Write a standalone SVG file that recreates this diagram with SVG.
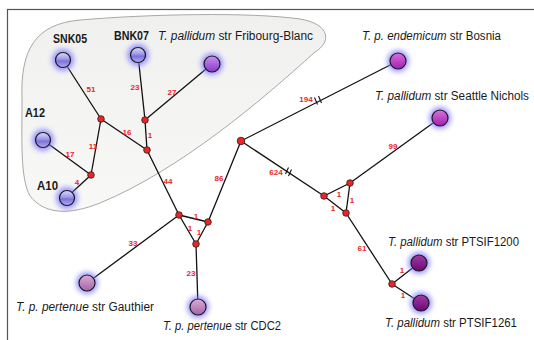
<svg xmlns="http://www.w3.org/2000/svg" width="534" height="340" viewBox="0 0 534 340">
<defs>
<style>
.edge{stroke:#111;stroke-width:1.3;fill:none}
.brk{stroke:#111;stroke-width:1.1;fill:none}
.el{font-family:"Liberation Sans",Arial,sans-serif;font-size:8px;font-weight:bold;fill:#e8262a;text-anchor:middle}
.lab{font-family:"Liberation Sans",Arial,sans-serif;font-size:12px;fill:#1a1a1a}
.bl{font-family:"Liberation Sans",Arial,sans-serif;font-size:12.5px;font-weight:bold;fill:#1a1a1a}
.glow{fill:#7f78ff;opacity:0.75;filter:url(#blur)}
.leaf{stroke:#1a1a1a;stroke-width:1.2}
.inner{fill:#ee2424;stroke:#222;stroke-width:0.8}
</style>
<filter id="blur" x="-50%" y="-50%" width="200%" height="200%"><feGaussianBlur stdDeviation="2.4"/></filter>
<linearGradient id="hull" x1="0" y1="0" x2="0" y2="1"><stop offset="0" stop-color="#f0f0ee"/><stop offset="1" stop-color="#f8f8f6"/></linearGradient>
<linearGradient id="lav" x1="0" y1="0" x2="0" y2="1"><stop offset="0" stop-color="#dcd8fa"/><stop offset="0.42" stop-color="#a49cec"/><stop offset="0.58" stop-color="#7c72dc"/><stop offset="1" stop-color="#b6aef2"/></linearGradient>
<linearGradient id="vio" x1="0" y1="0" x2="0" y2="1"><stop offset="0" stop-color="#c890f2"/><stop offset="1" stop-color="#8838c8"/></linearGradient>
<linearGradient id="mag" x1="0" y1="0" x2="0" y2="1"><stop offset="0" stop-color="#d870dc"/><stop offset="1" stop-color="#a020b0"/></linearGradient>
<linearGradient id="mauve" x1="0" y1="0" x2="0" y2="1"><stop offset="0" stop-color="#dcaad8"/><stop offset="1" stop-color="#a464a8"/></linearGradient>
<linearGradient id="dark" x1="0" y1="0" x2="0" y2="1"><stop offset="0" stop-color="#a23aa6"/><stop offset="1" stop-color="#6a0a72"/></linearGradient>
</defs>
<rect x="0" y="0" width="534" height="340" fill="#ffffff"/>
<rect x="7.5" y="9.5" width="540" height="345" fill="none" stroke="#555" stroke-width="1.2"/>
<path id="cluster" d="M22,100 C20,50 35,24 80,20 C150,14 250,12 300,19 C330,24 332,42 315,52 C262,100 180,170 100,203 C70,215 45,215 30,196 C20,178 22,140 22,100 Z" fill="url(#hull)" stroke="#a8a8a8" stroke-width="1"/>
<g id="connectors">
<line class="edge" x1="63" y1="60" x2="101" y2="119"/>
<line class="edge" x1="101" y1="119" x2="91" y2="175"/>
<line class="edge" x1="43" y1="140" x2="91" y2="175"/>
<line class="edge" x1="91" y1="175" x2="67" y2="197"/>
<line class="edge" x1="101" y1="119" x2="147" y2="150"/>
<line class="edge" x1="138" y1="55" x2="145" y2="120"/>
<line class="edge" x1="212" y1="64" x2="145" y2="120"/>
<line class="edge" x1="145" y1="120" x2="147" y2="150"/>
<line class="edge" x1="147" y1="150" x2="179" y2="215"/>
<line class="edge" x1="241" y1="141" x2="208" y2="222"/>
<line class="edge" x1="179" y1="215" x2="208" y2="222"/>
<line class="edge" x1="179" y1="215" x2="196" y2="244"/>
<line class="edge" x1="208" y1="222" x2="196" y2="244"/>
<line class="edge" x1="179" y1="215" x2="87" y2="283"/>
<line class="edge" x1="196" y1="244" x2="198" y2="307"/>
<line class="edge" x1="241" y1="141" x2="398" y2="61"/>
<line class="edge" x1="241" y1="141" x2="324" y2="196"/>
<line class="edge" x1="324" y1="196" x2="350" y2="183"/>
<line class="edge" x1="324" y1="196" x2="346" y2="213"/>
<line class="edge" x1="350" y1="183" x2="346" y2="213"/>
<line class="edge" x1="350" y1="183" x2="440" y2="118"/>
<line class="edge" x1="346" y1="213" x2="392" y2="284"/>
<line class="edge" x1="392" y1="284" x2="419" y2="263"/>
<line class="edge" x1="392" y1="284" x2="421" y2="303"/>
<g id="breaks">
<path class="brk" d="M314.5,97.5 L317.5,104.5 M318.5,96 L321.5,103"/>
<path class="brk" d="M288.5,167.5 L285.5,174 M291.5,169.5 L288.5,176"/>
</g>
<g id="edge-labels">
<text class="el" x="91" y="92">51</text>
<text class="el" x="135" y="90">23</text>
<text class="el" x="172" y="95">27</text>
<text class="el" x="127" y="135">16</text>
<text class="el" x="150" y="138">1</text>
<text class="el" x="93" y="149">11</text>
<text class="el" x="70" y="157">17</text>
<text class="el" x="77" y="185">4</text>
<text class="el" x="168" y="184">44</text>
<text class="el" x="219" y="181">86</text>
<text class="el" x="196" y="219">1</text>
<text class="el" x="190" y="231">1</text>
<text class="el" x="199" y="235">1</text>
<text class="el" x="133" y="246">33</text>
<text class="el" x="191" y="276">23</text>
<text class="el" x="306" y="102">194</text>
<text class="el" x="276" y="175">624</text>
<text class="el" x="393" y="149">99</text>
<text class="el" x="339" y="197">1</text>
<text class="el" x="333" y="211">1</text>
<text class="el" x="352" y="203">1</text>
<text class="el" x="362" y="251">61</text>
<text class="el" x="402" y="273">1</text>
<text class="el" x="403" y="298">1</text>
</g>
</g>
<g id="n1"><circle class="inner" cx="101" cy="119" r="3.3"/></g>
<g id="n2"><circle class="inner" cx="91" cy="175" r="3.3"/></g>
<g id="n3"><circle class="inner" cx="145" cy="120" r="3.3"/></g>
<g id="n4"><circle class="inner" cx="147" cy="150" r="3.3"/></g>
<g id="n5"><circle class="inner" cx="241" cy="141" r="3.8"/></g>
<g id="n6"><circle class="inner" cx="179" cy="215" r="3.3"/></g>
<g id="n7"><circle class="inner" cx="208" cy="222" r="3.3"/></g>
<g id="n8"><circle class="inner" cx="196" cy="244" r="3.3"/></g>
<g id="n9"><circle class="inner" cx="324" cy="196" r="3.3"/></g>
<g id="n10"><circle class="inner" cx="350" cy="183" r="3.3"/></g>
<g id="n11"><circle class="inner" cx="346" cy="213" r="3.3"/></g>
<g id="n12"><circle class="inner" cx="392" cy="284" r="3.3"/></g>
<g id="SNK05"><circle class="glow" cx="63" cy="60" r="11"/><circle class="leaf" cx="63" cy="60" r="7.5" fill="url(#lav)"/><text class="bl" x="53" y="43" textLength="34" lengthAdjust="spacingAndGlyphs">SNK05</text></g>
<g id="BNK07"><circle class="glow" cx="138" cy="55" r="11"/><circle class="leaf" cx="138" cy="55" r="7.5" fill="url(#lav)"/><text class="bl" x="114" y="40" textLength="35" lengthAdjust="spacingAndGlyphs">BNK07</text></g>
<g id="FribourgBlanc"><circle class="glow" cx="212" cy="64" r="11"/><circle class="leaf" cx="212" cy="64" r="8" fill="url(#vio)"/><text class="lab" x="158" y="40" textLength="155" lengthAdjust="spacingAndGlyphs"><tspan font-style="italic">T. pallidum</tspan> str Fribourg-Blanc</text></g>
<g id="A12"><circle class="glow" cx="43" cy="140" r="11"/><circle class="leaf" cx="43" cy="140" r="7.5" fill="url(#lav)"/><text class="bl" x="25" y="117" textLength="20" lengthAdjust="spacingAndGlyphs">A12</text></g>
<g id="A10"><circle class="glow" cx="67" cy="198" r="11"/><circle class="leaf" cx="67" cy="198" r="7.5" fill="url(#lav)"/><text class="bl" x="37" y="190" textLength="21" lengthAdjust="spacingAndGlyphs">A10</text></g>
<g id="Bosnia"><circle class="glow" cx="398" cy="61" r="11"/><circle class="leaf" cx="398" cy="61" r="8" fill="url(#mag)"/><text class="lab" x="362" y="40" textLength="139" lengthAdjust="spacingAndGlyphs"><tspan font-style="italic">T. p. endemicum</tspan> str Bosnia</text></g>
<g id="SeattleNichols"><circle class="glow" cx="440" cy="118" r="11"/><circle class="leaf" cx="440" cy="118" r="8" fill="url(#mag)"/><text class="lab" x="375" y="100" textLength="154" lengthAdjust="spacingAndGlyphs"><tspan font-style="italic">T. pallidum</tspan> str Seattle Nichols</text></g>
<g id="Gauthier"><circle class="glow" cx="87" cy="283" r="11"/><circle class="leaf" cx="87" cy="283" r="8" fill="url(#mauve)"/><text class="lab" x="16" y="311" textLength="138" lengthAdjust="spacingAndGlyphs"><tspan font-style="italic">T. p. pertenue</tspan> str Gauthier</text></g>
<g id="CDC2"><circle class="glow" cx="198" cy="307" r="11"/><circle class="leaf" cx="198" cy="307" r="8" fill="url(#mauve)"/><text class="lab" x="163" y="330" textLength="118" lengthAdjust="spacingAndGlyphs"><tspan font-style="italic">T. p. pertenue</tspan> str CDC2</text></g>
<g id="PTSIF1200"><circle class="glow" cx="419" cy="263" r="11"/><circle class="leaf" cx="419" cy="263" r="8" fill="url(#dark)"/><text class="lab" x="388" y="246" textLength="131" lengthAdjust="spacingAndGlyphs"><tspan font-style="italic">T. pallidum</tspan> str PTSIF1200</text></g>
<g id="PTSIF1261"><circle class="glow" cx="421" cy="303" r="11"/><circle class="leaf" cx="421" cy="303" r="8" fill="url(#dark)"/><text class="lab" x="385" y="327" textLength="132" lengthAdjust="spacingAndGlyphs"><tspan font-style="italic">T. pallidum</tspan> str PTSIF1261</text></g>
</svg>
